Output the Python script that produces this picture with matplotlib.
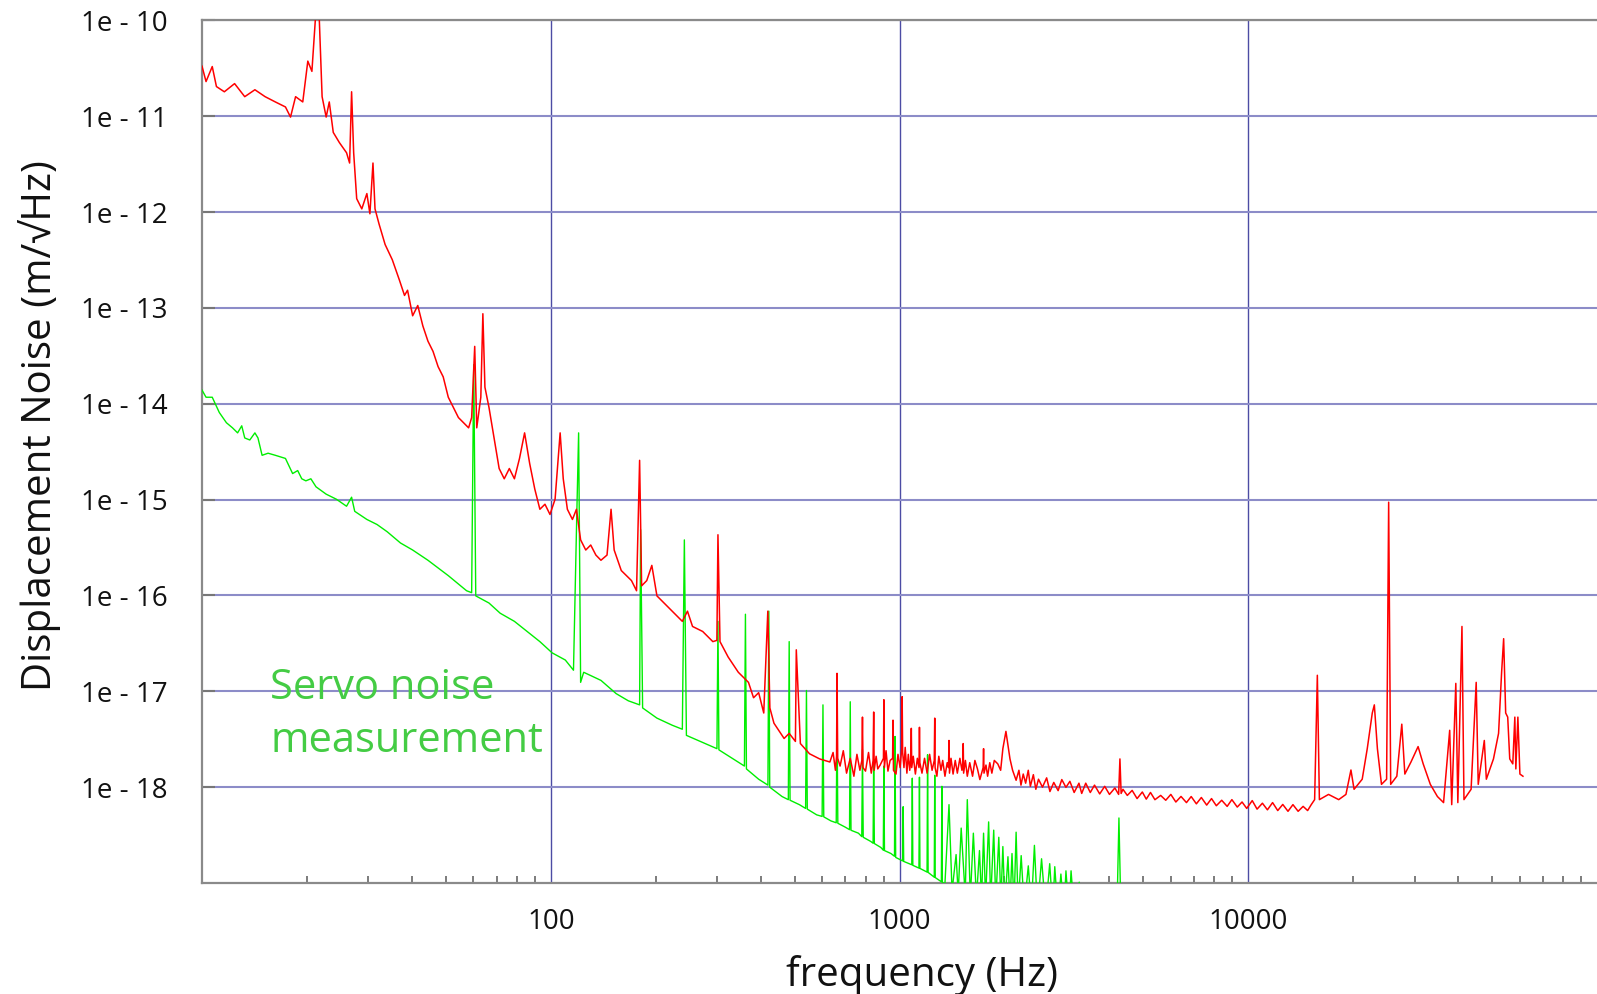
import matplotlib
matplotlib.use("Agg")
import matplotlib.pyplot as plt
from matplotlib.ticker import FixedLocator, LogLocator, NullLocator, NullFormatter

plt.rcParams['font.family'] = ['Open Sans', 'DejaVu Sans']

# displacement noise spectrum (red)
red_f = [10, 10.27, 10.7, 11.0, 11.59, 12.4, 13.26, 14.18, 15.17, 16.23,
         17.35, 17.94, 18.55, 19.45, 20.11, 20.66, 21.23, 21.66, 22.1, 22.7,
         23.17, 23.79, 24.77, 25.97, 26.5, 26.85, 27.22, 27.77, 28.72, 29.7,
         30.3, 30.92, 31.34, 32.19, 33.5, 35.13, 36.82, 38.08, 38.85, 40.18,
         41.56, 42.98, 44.45, 45.97, 47.53, 49.16, 50.84, 52.57, 54.36, 56.22,
         58.14, 59.32, 60.53, 61.35, 63.02, 63.88, 64.75, 66.51, 68.78, 71.13,
         73.56, 76.07, 78.67, 81.36, 84.14, 87.01, 89.99, 93.07, 96.25, 99.5,
         102.9, 106.4, 108.6, 111.6, 115.4, 118.5, 121.8, 126.0, 130.2, 134.7,
         139.3, 145.0, 148.9, 152.0, 159.3, 164.8, 170.4, 176.2, 179.8, 182.2,
         188.5, 194.9, 201.6, 208.4, 215.5, 222.9, 230.5, 238.4, 246.6, 255.0,
         272.7, 291.6, 299.5, 301.6, 305.7, 322.6, 345.0, 368.9, 381.5, 394.6,
         408.1, 419.2, 424.9, 436.5, 466.8, 482.7, 503.0, 505.9, 519.7, 552.1,
         590.4, 631.4, 645, 655, 660, 662, 665, 675.5, 690, 705,
         722.4, 740, 755, 770, 780, 783.1, 786, 799, 815, 830,
         840, 843.3, 846, 857, 866.2, 880, 899.5, 902, 905, 915,
         926.5, 940, 955.5, 958.1, 961, 977.2, 990, 1004, 1014.5, 1017.6,
         1021, 1030, 1038.3, 1050, 1060, 1070, 1078, 1081.1, 1084, 1095,
         1110.6, 1125, 1137.5, 1140.8, 1144, 1160, 1179.8, 1200, 1220, 1240,
         1258, 1261.9, 1265, 1280, 1296.3, 1315, 1330, 1350, 1370, 1382,
         1386.6, 1391, 1405, 1424.4, 1445, 1465, 1490, 1510, 1519, 1523,
         1527, 1545, 1564.6, 1590, 1620, 1645, 1673.2, 1700, 1737, 1742,
         1747, 1770, 1789.2, 1815, 1840, 1870, 1913.3, 1950, 1978.7, 2019.1,
         2050, 2074, 2110, 2159.6, 2200, 2230, 2263.5, 2300, 2340, 2372.6,
         2420, 2460, 2503.7, 2570, 2642, 2700, 2769, 2850, 2920, 3001,
         3080, 3168, 3270, 3330, 3420, 3524, 3624, 3750, 3876, 4000,
         4145, 4250, 4286, 4320, 4373, 4500, 4646, 4800, 4969, 5100,
         5244, 5400, 5609, 5800, 5998, 6200, 6415, 6650, 6861, 7100,
         7337, 7600, 7847, 8100, 8392, 8700, 8975, 9300, 9599, 9900,
         10266, 10600, 10980, 11350, 11743, 12150, 12560, 13000, 13432, 13900,
         14366, 14800, 15158, 15500, 15780, 15995, 16990, 18170, 19060, 19700,
         20110, 21220, 21940, 22680, 22990, 23460, 24100, 24930, 25270, 25610,
         26670, 27560, 28120, 29280, 30690, 31740, 33270, 34870, 36310, 37810,
         38320, 39370, 39900, 41000, 41550, 43550, 45040, 45650, 47520, 48160,
         50480, 52210, 53270, 53990, 54720, 55460, 56210, 57350, 58130, 58520,
         59310, 60110, 61330]
red_amp = [3.33e-11, 2.30e-11, 3.3e-11, 2.04e-11, 1.80e-11, 2.19e-11, 1.60e-11, 1.89e-11, 1.60e-11, 1.41e-11,
           1.25e-11, 9.8e-12, 1.6e-11, 1.41e-11, 3.76e-11, 2.94e-11, 1.3e-10, 1.2e-10, 1.6e-11, 9.8e-12,
           1.41e-11, 6.78e-12, 5.31e-12, 4.16e-12, 3.25e-12, 1.8e-11, 4.16e-12, 1.38e-12, 1.08e-12, 1.56e-12,
           9.6e-13, 3.25e-12, 1.08e-12, 7.5e-13, 4.59e-13, 3.18e-13, 1.95e-13, 1.35e-13, 1.53e-13, 8.28e-14,
           1.06e-13, 6.49e-14, 4.5e-14, 3.52e-14, 2.44e-14, 1.91e-14, 1.17e-14, 9.16e-15, 7.18e-15, 6.34e-15,
           5.61e-15, 7.18e-15, 3.97e-14, 5.61e-15, 1.17e-14, 8.7e-14, 1.49e-14, 9.16e-15, 4.4e-15, 2.11e-15,
           1.65e-15, 2.11e-15, 1.65e-15, 2.69e-15, 4.97e-15, 2.38e-15, 1.29e-15, 7.93e-16, 8.95e-16, 7.0e-16,
           1.01e-15, 4.97e-15, 1.65e-15, 7.93e-16, 6.21e-16, 7.93e-16, 3.8e-16, 2.98e-16, 3.36e-16, 2.64e-16,
           2.33e-16, 2.64e-16, 7.93e-16, 2.98e-16, 1.82e-16, 1.61e-16, 1.43e-16, 1.12e-16, 2.57e-15, 1.26e-16,
           1.43e-16, 2.06e-16, 9.9e-17, 8.77e-17, 7.76e-17, 6.86e-17, 6.07e-17, 5.37e-17, 6.86e-17, 4.75e-17,
           4.21e-17, 3.3e-17, 3.4e-17, 4.3e-16, 3.3e-17, 2.28e-17, 1.58e-17, 1.24e-17, 8.57e-18, 9.68e-18,
           5.94e-18, 6.86e-17, 6.71e-18, 4.65e-18, 3.22e-18, 3.64e-18, 3.0e-18, 2.71e-17, 2.85e-18, 2.23e-18,
           1.97e-18, 1.83e-18, 2.3e-18, 1.5e-18, 2.1e-18, 1.54e-17, 2.0e-18, 1.66e-18, 2.4e-18, 1.4e-18,
           2.0e-18, 1.3e-18, 2.2e-18, 1.5e-18, 1.9e-18, 5.38e-18, 1.6e-18, 1.47e-18, 2.3e-18, 1.4e-18,
           1.9e-18, 6.08e-18, 1.5e-18, 2.1e-18, 1.55e-18, 1.7e-18, 2.0e-18, 8.17e-18, 1.6e-18, 2.4e-18,
           1.47e-18, 1.9e-18, 2.0e-18, 5.0e-18, 1.5e-18, 1.37e-18, 2.2e-18, 1.6e-18, 2.5e-18, 8.79e-18,
           2.3e-18, 1.6e-18, 2.6e-18, 1.4e-18, 2.2e-18, 1.5e-18, 2.0e-18, 4.11e-18, 1.6e-18, 2.1e-18,
           1.37e-18, 2.0e-18, 1.6e-18, 4.21e-18, 1.8e-18, 1.4e-18, 2.0e-18, 1.4e-18, 2.2e-18, 1.5e-18,
           1.9e-18, 5.25e-18, 1.6e-18, 1.3e-18, 2.1e-18, 1.5e-18, 1.9e-18, 1.3e-18, 1.8e-18, 1.6e-18,
           3.07e-18, 1.4e-18, 2.0e-18, 1.37e-18, 1.9e-18, 1.4e-18, 2.0e-18, 1.5e-18, 1.8e-18, 2.85e-18,
           1.4e-18, 1.9e-18, 1.30e-18, 1.8e-18, 1.3e-18, 1.9e-18, 1.55e-18, 1.2e-18, 1.6e-18, 2.52e-18,
           1.4e-18, 1.7e-18, 1.30e-18, 1.8e-18, 1.4e-18, 1.9e-18, 1.75e-18, 1.5e-18, 2.52e-18, 3.82e-18,
           2.6e-18, 1.97e-18, 1.5e-18, 1.18e-18, 1.5e-18, 1.05e-18, 1.37e-18, 1.1e-18, 1.5e-18, 1.02e-18,
           1.35e-18, 9.5e-19, 1.21e-18, 1.0e-18, 1.25e-18, 9.0e-19, 1.12e-18, 9.2e-19, 1.2e-18, 9.95e-19,
           1.15e-18, 8.8e-19, 1.1e-18, 8.6e-19, 1.1e-18, 8.8e-19, 1.05e-18, 8.5e-19, 1.02e-18, 8.4e-19,
           9.8e-19, 8.4e-19, 1.97e-18, 8.6e-19, 9.5e-19, 8.2e-19, 9.25e-19, 7.6e-19, 8.9e-19, 7.5e-19,
           8.8e-19, 7.4e-19, 8.2e-19, 7.3e-19, 8.4e-19, 7.0e-19, 8.0e-19, 6.9e-19, 7.98e-19, 6.7e-19,
           7.8e-19, 6.5e-19, 7.6e-19, 6.4e-19, 7.3e-19, 6.3e-19, 7.41e-19, 6.2e-19, 7.0e-19, 6.0e-19,
           7.24e-19, 5.9e-19, 6.8e-19, 5.8e-19, 6.9e-19, 5.7e-19, 6.6e-19, 5.6e-19, 6.57e-19, 5.6e-19,
           6.3e-19, 5.7e-19, 6.57e-19, 7.41e-19, 1.47e-17, 7.41e-19, 8.4e-19, 7.41e-19, 8.4e-19, 1.51e-18,
           9.5e-19, 1.21e-18, 2.52e-18, 5.94e-18, 7.22e-18, 2.52e-18, 1.07e-18, 1.21e-18, 9.4e-16, 1.07e-18,
           1.30e-18, 4.54e-18, 1.37e-18, 1.83e-18, 2.65e-18, 1.75e-18, 1.07e-18, 7.98e-19, 6.9e-19, 3.92e-18,
           6.57e-19, 1.21e-17, 6.9e-19, 4.75e-17, 7.41e-19, 9.5e-19, 1.24e-17, 1.07e-18, 3.07e-18, 1.21e-18,
           1.97e-18, 3.64e-18, 1.58e-17, 3.54e-17, 5.94e-18, 5.38e-18, 1.97e-18, 1.75e-18, 5.38e-18, 1.55e-18,
           5.38e-18, 1.37e-18, 1.30e-18]

# servo noise measurement (green)
green_f = [10, 10.27, 10.7, 11.21, 11.75, 12.23, 12.65, 13.0, 13.26, 13.71,
           14.18, 14.47, 14.87, 15.47, 16.23, 17.35, 18.19, 18.81, 19.32, 19.85,
           20.52, 21.23, 22.7, 24.28, 25.97, 26.85, 27.41, 29.7, 31.76, 33.97,
           37.07, 40.18, 44.45, 50.84, 57.37, 59.32, 60.13, 60.95, 66.51, 71.6,
           78.67, 87.01, 93.07, 100.9, 110.1, 116.2, 118.5, 120.2, 121.8, 124.3,
           139.3, 154.0, 166.9, 179.8, 181.0, 183.4, 201.6, 222.9, 238.4, 241.6,
           244.9, 269.1, 299.6, 301.6, 303.5, 333.6, 359.2, 361.6, 364.0, 394.6,
           419.5, 422.0, 424.5, 460.6, 480.0, 482.7, 485.5, 516.2, 538.0, 541.0,
           544.0, 578.9, 600.0, 603.3, 606.5, 636.3, 658.5, 662.0, 665.5, 698.6,
           719.0, 722.4, 726.0, 762.4, 779.5, 783.1, 787.0, 826.3, 840.0, 843.3,
           847.0, 883.9, 898.5, 902.0, 905.5, 945.2, 967.5, 971.0, 975.0, 1021.0,
           1024.5, 1028.0, 1084.5, 1088.3, 1092.0, 1137.0, 1140.8, 1144.5, 1199.5, 1203.6,
           1208.0, 1258.0, 1262.0, 1266.0, 1318.5, 1322.9, 1327.0, 1349.6, 1386.6, 1414.7,
           1453.0, 1473.0, 1502.6, 1543.4, 1564.6, 1596.2, 1628.5, 1661.7, 1695.6, 1718.6,
           1742.0, 1765.4, 1801.3, 1825.6, 1862.8, 1888.1, 1926.3, 1952.6, 1978.7, 2005.5,
           2046.4, 2074.0, 2101.8, 2130.2, 2159.6, 2188.6, 2233.0, 2278.5, 2340.4, 2388.2,
           2437.0, 2486.6, 2554.7, 2624.3, 2695.9, 2750.7, 2787.6, 2844.6, 2902.5, 2961.7,
           3001.0, 3062.5, 3104.0, 3168.0, 3276.0, 3365.0, 3750.0, 4201.0, 4258.0, 4315.0,
           5244.0, 8392.0]
green_amp = [1.39e-14, 1.17e-14, 1.17e-14, 8.11e-15, 6.34e-15, 5.61e-15, 4.97e-15, 5.89e-15, 4.4e-15, 4.19e-15,
             4.97e-15, 4.4e-15, 2.9e-15, 3.05e-15, 2.9e-15, 2.69e-15, 1.87e-15, 2.01e-15, 1.65e-15, 1.57e-15,
             1.65e-15, 1.36e-15, 1.14e-15, 1.01e-15, 8.53e-16, 1.06e-15, 7.55e-16, 6.21e-16, 5.5e-16, 4.62e-16,
             3.53e-16, 2.98e-16, 2.33e-16, 1.61e-16, 1.12e-16, 1.07e-16, 2.56e-14, 9.9e-17, 8.34e-17, 6.53e-17,
             5.37e-17, 4.01e-17, 3.3e-17, 2.52e-17, 2.12e-17, 1.66e-17, 4.86e-16, 4.97e-15, 1.24e-17, 1.58e-17,
             1.30e-17, 9.46e-18, 7.96e-18, 7.22e-18, 4.86e-16, 6.71e-18, 5.25e-18, 4.43e-18, 4.02e-18, 3.8e-16,
             3.47e-18, 2.99e-18, 2.52e-18, 5.37e-17, 2.45e-18, 1.97e-18, 1.66e-18, 6.37e-17, 1.55e-18, 1.21e-18,
             1.05e-18, 6.86e-17, 1.0e-18, 7.98e-19, 7.4e-19, 3.3e-17, 7.3e-19, 6.57e-19, 6.0e-19, 1.02e-17,
             5.9e-19, 5.14e-19, 4.95e-19, 7.22e-18, 4.9e-19, 4.44e-19, 4.25e-19, 5.38e-18, 4.2e-19, 3.83e-19,
             3.6e-19, 7.78e-18, 3.55e-19, 3.31e-19, 3.05e-19, 2.46e-18, 3.0e-19, 2.72e-19, 2.6e-19, 1.97e-18,
             2.58e-19, 2.35e-19, 2.2e-19, 1.66e-18, 2.18e-19, 2.03e-19, 1.9e-19, 3.38e-18, 1.85e-19, 1.7e-19,
             6.25e-19, 1.68e-19, 1.55e-19, 1.24e-18, 1.53e-19, 1.43e-19, 1.27e-18, 1.42e-19, 1.3e-19, 2.18e-18,
             1.29e-19, 1.15e-19, 1.33e-18, 1.14e-19, 1.03e-19, 1.02e-18, 1.02e-19, 9.7e-20, 6.57e-19, 8.2e-20,
             1.98e-19, 7.62e-20, 3.74e-19, 7.26e-20, 7.41e-19, 6.9e-20, 3.31e-19, 6.9e-20, 2.18e-19, 6.58e-20,
             3.31e-19, 6.58e-20, 4.34e-19, 6.43e-20, 3.56e-19, 6.3e-20, 3.0e-19, 6.3e-20, 2.4e-19, 6.0e-20,
             1.88e-19, 6.0e-20, 2.03e-19, 5.69e-20, 3.39e-19, 5.69e-20, 1.93e-19, 5.44e-20, 1.51e-19, 5.44e-20,
             2.47e-19, 5.2e-20, 1.79e-19, 5.2e-20, 1.59e-19, 5.1e-20, 1.48e-19, 5.0e-20, 1.24e-19, 5.0e-20,
             1.34e-19, 4.9e-20, 1.34e-19, 4.9e-20, 1.02e-19, 4.8e-20, 4.7e-20, 4.7e-20, 4.77e-19, 4.7e-20,
             4.5e-20, 4.3e-20]

ytick_vals = [1e-10, 1e-11, 1e-12, 1e-13, 1e-14, 1e-15, 1e-16, 1e-17, 1e-18]
ytick_labels = ['1e - 10', '1e - 11', '1e - 12', '1e - 13', '1e - 14',
                '1e - 15', '1e - 16', '1e - 17', '1e - 18']
xtick_vals = [100, 1000, 10000]
xtick_labels = ['100', '1000', '10000']

fig = plt.figure(figsize=(15.97, 9.94), dpi=100)
ax = fig.add_axes([202 / 1597, 1 - 883 / 994, (1597 - 202) / 1597, (883 - 20.4) / 994])

ax.plot(red_f, red_amp, color='#ff0000', lw=1.1, zorder=3)
ax.plot(green_f, green_amp, color='#00ee00', lw=1.0, zorder=2.8)

ax.set_xscale('log')
ax.set_yscale('log')
ax.set_xlim(10, 1e5)
ax.set_ylim(1e-19, 1e-10)

ax.xaxis.set_major_locator(FixedLocator(xtick_vals))
ax.set_xticklabels(xtick_labels)
ax.xaxis.set_minor_locator(LogLocator(base=10, subs=[2, 3, 4, 5, 6, 7, 8, 9], numticks=20))
ax.xaxis.set_minor_formatter(NullFormatter())
ax.yaxis.set_major_locator(FixedLocator(ytick_vals))
ax.set_yticklabels(ytick_labels)
ax.yaxis.set_minor_locator(NullLocator())

ax.tick_params(axis='x', which='major', length=0, pad=18, labelsize=20, labelcolor='#111111')
ax.tick_params(axis='x', which='minor', direction='in', length=5, width=1.2, color='#666666')
ax.tick_params(axis='y', which='major', direction='in', length=9, width=1.5, color='#777777',
               pad=25, labelsize=20, labelcolor='#111111')

ax.yaxis.grid(True, color='#8c8cc8', lw=1.5)
ax.xaxis.grid(True, which='major', color='#4c4ca4', lw=1.0)
ax.set_axisbelow(True)

for side in ['left', 'bottom', 'top']:
    ax.spines[side].set_color('#8a8a8a')
    ax.spines[side].set_linewidth(1.6)
ax.spines['right'].set_visible(False)

ax.set_ylabel('Displacement Noise (m/\u221aHz)', fontsize=29, color='#111111', labelpad=14)
ax.set_xlabel('frequency (Hz)', fontsize=29, color='#111111', labelpad=14)
ax.yaxis.label.set_y(0.53)
ax.xaxis.label.set_x(0.516)

ax.text(0.049, 0.152, 'Servo noise\nmeasurement', transform=ax.transAxes,
        fontsize=30, color='#44cc44', va='baseline', ha='left', linespacing=1.34)

fig.savefig('out.png', dpi=100)
